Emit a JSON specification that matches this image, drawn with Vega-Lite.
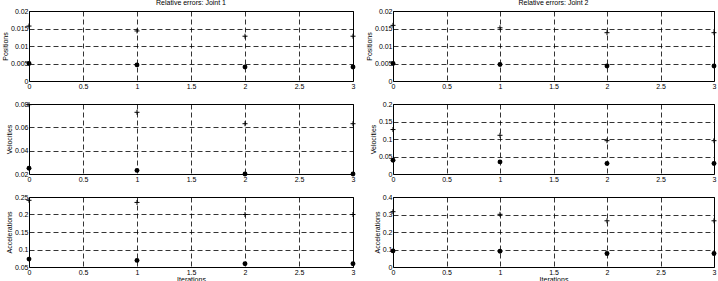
{
  "$schema": "https://vega.github.io/schema/vega-lite/v6.json",
  "padding": {"left": 0, "top": -2, "right": 2, "bottom": 0},
  "background": "white",
  "config": {
    "font": "Liberation Sans",
    "view": {"stroke": "black", "strokeWidth": 1},
    "axis": {
      "gridColor": "black", "gridDash": [5, 3], "gridOpacity": 1, "gridWidth": 0.8,
      "domain": false, "ticks": false,
      "labelFontSize": 7, "labelColor": "black", "labelPadding": 1,
      "titleFontSize": 7, "titleFontWeight": "normal", "titleColor": "black", "titlePadding": 2,
      "labelFlush": false, "labelOverlap": false
    },
    "title": {"fontSize": 7, "fontWeight": "normal", "offset": 1, "color": "black"}
  },
  "datasets": {
    "d": [
      {"j": "1", "q": "Positions", "it": 0, "v": 0.0157, "s": "plus"},
      {"j": "1", "q": "Positions", "it": 1, "v": 0.0143, "s": "plus"},
      {"j": "1", "q": "Positions", "it": 2, "v": 0.0128, "s": "plus"},
      {"j": "1", "q": "Positions", "it": 3, "v": 0.0128, "s": "plus"},
      {"j": "1", "q": "Positions", "it": 0, "v": 0.0050, "s": "dot"},
      {"j": "1", "q": "Positions", "it": 1, "v": 0.0046, "s": "dot"},
      {"j": "1", "q": "Positions", "it": 2, "v": 0.0040, "s": "dot"},
      {"j": "1", "q": "Positions", "it": 3, "v": 0.0040, "s": "dot"},
      {"j": "2", "q": "Positions", "it": 0, "v": 0.0159, "s": "plus"},
      {"j": "2", "q": "Positions", "it": 1, "v": 0.0152, "s": "plus"},
      {"j": "2", "q": "Positions", "it": 2, "v": 0.0138, "s": "plus"},
      {"j": "2", "q": "Positions", "it": 3, "v": 0.0138, "s": "plus"},
      {"j": "2", "q": "Positions", "it": 0, "v": 0.0050, "s": "dot"},
      {"j": "2", "q": "Positions", "it": 1, "v": 0.0047, "s": "dot"},
      {"j": "2", "q": "Positions", "it": 2, "v": 0.0043, "s": "dot"},
      {"j": "2", "q": "Positions", "it": 3, "v": 0.0043, "s": "dot"},
      {"j": "1", "q": "Velocities", "it": 0, "v": 0.0794, "s": "plus"},
      {"j": "1", "q": "Velocities", "it": 1, "v": 0.0729, "s": "plus"},
      {"j": "1", "q": "Velocities", "it": 2, "v": 0.0631, "s": "plus"},
      {"j": "1", "q": "Velocities", "it": 3, "v": 0.0631, "s": "plus"},
      {"j": "1", "q": "Velocities", "it": 0, "v": 0.0249, "s": "dot"},
      {"j": "1", "q": "Velocities", "it": 1, "v": 0.0231, "s": "dot"},
      {"j": "1", "q": "Velocities", "it": 2, "v": 0.0200, "s": "dot"},
      {"j": "1", "q": "Velocities", "it": 3, "v": 0.0200, "s": "dot"},
      {"j": "2", "q": "Velocities", "it": 0, "v": 0.127, "s": "plus"},
      {"j": "2", "q": "Velocities", "it": 1, "v": 0.1106, "s": "plus"},
      {"j": "2", "q": "Velocities", "it": 2, "v": 0.0952, "s": "plus"},
      {"j": "2", "q": "Velocities", "it": 3, "v": 0.0952, "s": "plus"},
      {"j": "2", "q": "Velocities", "it": 0, "v": 0.0394, "s": "dot"},
      {"j": "2", "q": "Velocities", "it": 1, "v": 0.0346, "s": "dot"},
      {"j": "2", "q": "Velocities", "it": 2, "v": 0.0298, "s": "dot"},
      {"j": "2", "q": "Velocities", "it": 3, "v": 0.0298, "s": "dot"},
      {"j": "1", "q": "Accelerations", "it": 0, "v": 0.2406, "s": "plus"},
      {"j": "1", "q": "Accelerations", "it": 1, "v": 0.2345, "s": "plus"},
      {"j": "1", "q": "Accelerations", "it": 2, "v": 0.2000, "s": "plus"},
      {"j": "1", "q": "Accelerations", "it": 3, "v": 0.2000, "s": "plus"},
      {"j": "1", "q": "Accelerations", "it": 0, "v": 0.0726, "s": "dot"},
      {"j": "1", "q": "Accelerations", "it": 1, "v": 0.0689, "s": "dot"},
      {"j": "1", "q": "Accelerations", "it": 2, "v": 0.0594, "s": "dot"},
      {"j": "1", "q": "Accelerations", "it": 3, "v": 0.0594, "s": "dot"},
      {"j": "2", "q": "Accelerations", "it": 0, "v": 0.316, "s": "plus"},
      {"j": "2", "q": "Accelerations", "it": 1, "v": 0.301, "s": "plus"},
      {"j": "2", "q": "Accelerations", "it": 2, "v": 0.264, "s": "plus"},
      {"j": "2", "q": "Accelerations", "it": 3, "v": 0.264, "s": "plus"},
      {"j": "2", "q": "Accelerations", "it": 0, "v": 0.092, "s": "dot"},
      {"j": "2", "q": "Accelerations", "it": 1, "v": 0.090, "s": "dot"},
      {"j": "2", "q": "Accelerations", "it": 2, "v": 0.077, "s": "dot"},
      {"j": "2", "q": "Accelerations", "it": 3, "v": 0.077, "s": "dot"}
    ]
  },
  "columns": 2,
  "bounds": "flush",
  "spacing": {"row": 23, "column": 40},
  "concat": [
    {
      "width": 324, "height": 70,
      "title": "Relative errors: Joint 1",
      "data": {"name": "d"},
      "transform": [{"filter": "datum.j == '1' && datum.q == 'Positions'"}],
      "encoding": {
        "x": {"field": "it", "type": "quantitative", "scale": {"domain": [0, 3], "nice": false}, "axis": {"values": [0, 0.5, 1, 1.5, 2, 2.5, 3], "format": "~g", "title": null}},
        "y": {"field": "v", "type": "quantitative", "scale": {"domain": [0, 0.02], "nice": false}, "axis": {"values": [0, 0.005, 0.01, 0.015, 0.02], "format": "~g", "title": "Positions"}}
      },
      "layer": [
        {"transform": [{"filter": "datum.s == 'plus'"}], "mark": {"type": "point", "shape": "M-1,0L1,0M0,-1L0,1", "filled": false, "stroke": "black", "strokeWidth": 1, "size": 25, "opacity": 1}},
        {"transform": [{"filter": "datum.s == 'dot'"}], "mark": {"type": "circle", "color": "black", "size": 24, "opacity": 1}}
      ]
    },
    {
      "width": 321, "height": 70,
      "title": "Relative errors: Joint 2",
      "data": {"name": "d"},
      "transform": [{"filter": "datum.j == '2' && datum.q == 'Positions'"}],
      "encoding": {
        "x": {"field": "it", "type": "quantitative", "scale": {"domain": [0, 3], "nice": false}, "axis": {"values": [0, 0.5, 1, 1.5, 2, 2.5, 3], "format": "~g", "title": null}},
        "y": {"field": "v", "type": "quantitative", "scale": {"domain": [0, 0.02], "nice": false}, "axis": {"values": [0, 0.005, 0.01, 0.015, 0.02], "format": "~g", "title": "Positions"}}
      },
      "layer": [
        {"transform": [{"filter": "datum.s == 'plus'"}], "mark": {"type": "point", "shape": "M-1,0L1,0M0,-1L0,1", "filled": false, "stroke": "black", "strokeWidth": 1, "size": 25, "opacity": 1}},
        {"transform": [{"filter": "datum.s == 'dot'"}], "mark": {"type": "circle", "color": "black", "size": 24, "opacity": 1}}
      ]
    },
    {
      "width": 324, "height": 70,
      "data": {"name": "d"},
      "transform": [{"filter": "datum.j == '1' && datum.q == 'Velocities'"}],
      "encoding": {
        "x": {"field": "it", "type": "quantitative", "scale": {"domain": [0, 3], "nice": false}, "axis": {"values": [0, 0.5, 1, 1.5, 2, 2.5, 3], "format": "~g", "title": null}},
        "y": {"field": "v", "type": "quantitative", "scale": {"domain": [0.02, 0.08], "nice": false, "zero": false}, "axis": {"values": [0.02, 0.04, 0.06, 0.08], "format": "~g", "title": "Velocities"}}
      },
      "layer": [
        {"transform": [{"filter": "datum.s == 'plus'"}], "mark": {"type": "point", "shape": "M-1,0L1,0M0,-1L0,1", "filled": false, "stroke": "black", "strokeWidth": 1, "size": 25, "opacity": 1}},
        {"transform": [{"filter": "datum.s == 'dot'"}], "mark": {"type": "circle", "color": "black", "size": 24, "opacity": 1}}
      ]
    },
    {
      "width": 321, "height": 70,
      "data": {"name": "d"},
      "transform": [{"filter": "datum.j == '2' && datum.q == 'Velocities'"}],
      "encoding": {
        "x": {"field": "it", "type": "quantitative", "scale": {"domain": [0, 3], "nice": false}, "axis": {"values": [0, 0.5, 1, 1.5, 2, 2.5, 3], "format": "~g", "title": null}},
        "y": {"field": "v", "type": "quantitative", "scale": {"domain": [0, 0.2], "nice": false}, "axis": {"values": [0, 0.05, 0.1, 0.15, 0.2], "format": "~g", "title": "Velocities"}}
      },
      "layer": [
        {"transform": [{"filter": "datum.s == 'plus'"}], "mark": {"type": "point", "shape": "M-1,0L1,0M0,-1L0,1", "filled": false, "stroke": "black", "strokeWidth": 1, "size": 25, "opacity": 1}},
        {"transform": [{"filter": "datum.s == 'dot'"}], "mark": {"type": "circle", "color": "black", "size": 24, "opacity": 1}}
      ]
    },
    {
      "width": 324, "height": 70,
      "data": {"name": "d"},
      "transform": [{"filter": "datum.j == '1' && datum.q == 'Accelerations'"}],
      "encoding": {
        "x": {"field": "it", "type": "quantitative", "scale": {"domain": [0, 3], "nice": false}, "axis": {"values": [0, 0.5, 1, 1.5, 2, 2.5, 3], "format": "~g", "title": "Iterations", "titlePadding": 0}},
        "y": {"field": "v", "type": "quantitative", "scale": {"domain": [0.05, 0.25], "nice": false, "zero": false}, "axis": {"values": [0.05, 0.1, 0.15, 0.2, 0.25], "format": "~g", "title": "Accelerations"}}
      },
      "layer": [
        {"transform": [{"filter": "datum.s == 'plus'"}], "mark": {"type": "point", "shape": "M-1,0L1,0M0,-1L0,1", "filled": false, "stroke": "black", "strokeWidth": 1, "size": 25, "opacity": 1}},
        {"transform": [{"filter": "datum.s == 'dot'"}], "mark": {"type": "circle", "color": "black", "size": 24, "opacity": 1}}
      ]
    },
    {
      "width": 321, "height": 70,
      "data": {"name": "d"},
      "transform": [{"filter": "datum.j == '2' && datum.q == 'Accelerations'"}],
      "encoding": {
        "x": {"field": "it", "type": "quantitative", "scale": {"domain": [0, 3], "nice": false}, "axis": {"values": [0, 0.5, 1, 1.5, 2, 2.5, 3], "format": "~g", "title": "Iterations", "titlePadding": 0}},
        "y": {"field": "v", "type": "quantitative", "scale": {"domain": [0, 0.4], "nice": false}, "axis": {"values": [0, 0.1, 0.2, 0.3, 0.4], "format": "~g", "title": "Accelerations"}}
      },
      "layer": [
        {"transform": [{"filter": "datum.s == 'plus'"}], "mark": {"type": "point", "shape": "M-1,0L1,0M0,-1L0,1", "filled": false, "stroke": "black", "strokeWidth": 1, "size": 25, "opacity": 1}},
        {"transform": [{"filter": "datum.s == 'dot'"}], "mark": {"type": "circle", "color": "black", "size": 24, "opacity": 1}}
      ]
    }
  ]
}
